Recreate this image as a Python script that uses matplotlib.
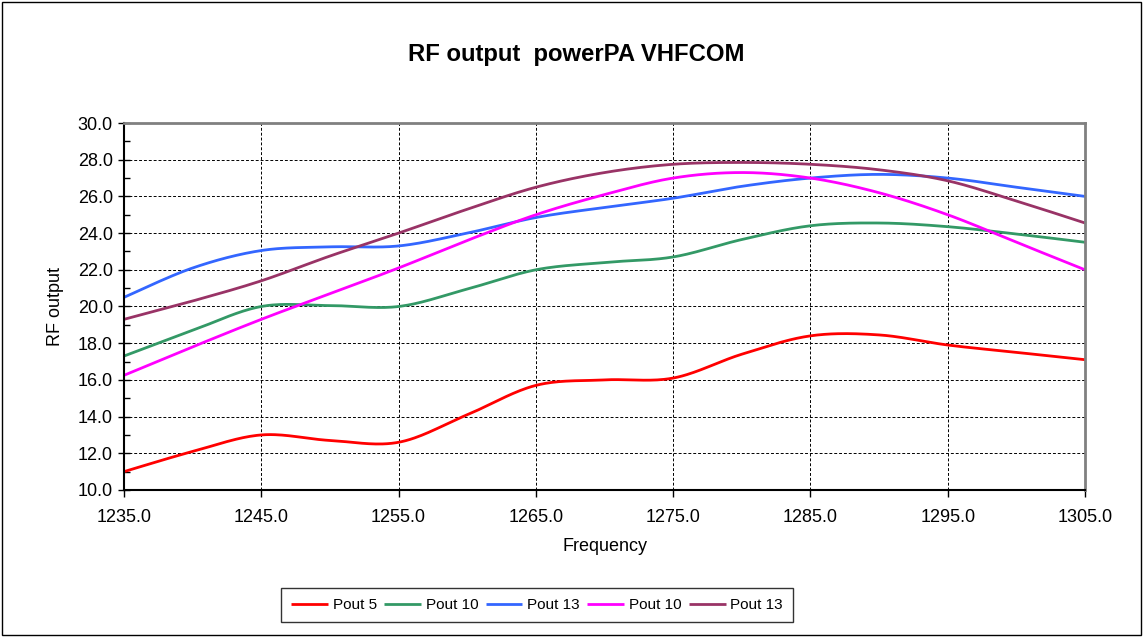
import numpy as np
import matplotlib
matplotlib.use("Agg")
import matplotlib.pyplot as plt
from matplotlib.ticker import MultipleLocator, FixedLocator, FormatStrFormatter
from matplotlib.patches import Rectangle

plt.rcParams['font.family'] = ['Liberation Sans', 'DejaVu Sans']

# frequency points (MHz)
freq = [1235, 1240, 1245, 1250, 1255, 1260, 1265, 1270, 1275, 1280, 1285, 1290, 1295, 1300, 1305]
x_ticks = [1235, 1245, 1255, 1265, 1275, 1285, 1295, 1305]

pout5_a = [11.0, 12.1, 13.0, 12.7, 12.6, 14.1, 15.7, 16.0, 16.1, 17.4, 18.4, 18.45, 17.9, 17.5, 17.1]
pout10_a = [17.3, 18.7, 20.0, 20.05, 20.0, 20.95, 22.0, 22.4, 22.7, 23.65, 24.4, 24.55, 24.35, 23.95, 23.5]
pout13_a = [20.5, 22.1, 23.05, 23.25, 23.3, 24.0, 24.85, 25.4, 25.9, 26.55, 27.0, 27.2, 27.0, 26.5, 26.0]
pout10_b = [16.25, 17.8, 19.3, 20.7, 22.1, 23.6, 25.0, 26.1, 27.0, 27.3, 27.0, 26.2, 25.0, 23.5, 22.0]
pout13_b = [19.3, 20.3, 21.4, 22.75, 24.0, 25.3, 26.5, 27.3, 27.75, 27.85, 27.75, 27.45, 26.85, 25.75, 24.55]

series = [
    ("Pout 5", pout5_a, "#FF0000"),
    ("Pout 10", pout10_a, "#339966"),
    ("Pout 13", pout13_a, "#3366FF"),
    ("Pout 10", pout10_b, "#FF00FF"),
    ("Pout 13", pout13_b, "#993366"),
]


# smoothed line like excel (catmull-rom through the points)
def smooth(x, y, n=30):
    x = np.asarray(x, float)
    y = np.asarray(y, float)
    xs, ys = [], []
    for i in range(len(x) - 1):
        p0 = i - 1 if i > 0 else i
        p3 = i + 2 if i + 2 < len(x) else i + 1
        m1x = (x[i + 1] - x[p0]) / 2
        m1y = (y[i + 1] - y[p0]) / 2
        m2x = (x[p3] - x[i]) / 2
        m2y = (y[p3] - y[i]) / 2
        t = np.linspace(0, 1, n, endpoint=False)
        h00 = 2 * t**3 - 3 * t**2 + 1
        h10 = t**3 - 2 * t**2 + t
        h01 = -2 * t**3 + 3 * t**2
        h11 = t**3 - t**2
        xs.append(h00 * x[i] + h10 * m1x + h01 * x[i + 1] + h11 * m2x)
        ys.append(h00 * y[i] + h10 * m1y + h01 * y[i + 1] + h11 * m2y)
    xs.append([x[-1]])
    ys.append([y[-1]])
    return np.concatenate(xs), np.concatenate(ys)


fig = plt.figure(figsize=(11.43, 6.37), dpi=100)
ax = fig.add_axes([0.1085, 0.2308, 0.8408, 0.5761])

for label, vals, col in series:
    sx, sy = smooth(freq, vals)
    ax.plot(sx, sy, color=col, lw=2.0, label=label, solid_capstyle='butt')

ax.set_xlim(1235, 1305)
ax.set_ylim(10, 30)
ax.xaxis.set_major_locator(FixedLocator(x_ticks))
ax.yaxis.set_major_locator(MultipleLocator(2))
ax.yaxis.set_minor_locator(MultipleLocator(1))
ax.xaxis.set_major_formatter(FormatStrFormatter('%.1f'))
ax.yaxis.set_major_formatter(FormatStrFormatter('%.1f'))
ax.grid(True, which='major', color='black', linestyle=(0, (3, 2)), linewidth=0.7)
ax.tick_params(axis='x', direction='out', length=5, width=1, labelsize=13, pad=9)
ax.tick_params(axis='y', which='major', direction='inout', length=8, width=1, labelsize=13, pad=4)
ax.tick_params(axis='y', which='minor', direction='in', length=4, width=1)

for s in ['top', 'right']:
    ax.spines[s].set_color('#808080')
    ax.spines[s].set_linewidth(2)
for s in ['left', 'bottom']:
    ax.spines[s].set_color('black')
    ax.spines[s].set_linewidth(1.5)

ax.set_xlabel("Frequency", fontsize=13, labelpad=8)
ax.set_ylabel("RF output", fontsize=13, labelpad=10)
fig.text(576 / 1143, 1 - 54 / 637, "RF output  powerPA VHFCOM", ha='center', va='center',
         fontsize=17.2, fontweight='bold')

leg = fig.legend(loc='center', bbox_to_anchor=(537 / 1143, 1 - 605 / 637), ncol=5,
                 fontsize=11, frameon=True, fancybox=False, edgecolor='black',
                 handlelength=2.4, handletextpad=0.3, columnspacing=0.5,
                 borderpad=0.65)
leg.get_frame().set_linewidth(1)

fig.patches.append(Rectangle((0.002, 0.003), 0.996, 0.994, transform=fig.transFigure,
                             fill=False, edgecolor='black', linewidth=1))

fig.savefig("out.png", dpi=100)
